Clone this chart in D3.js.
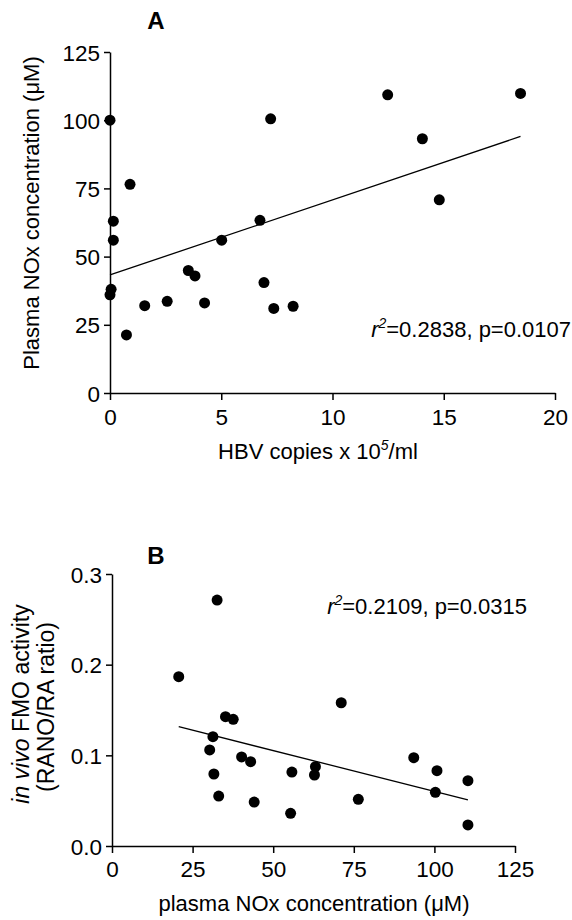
<!DOCTYPE html>
<html>
<head>
<meta charset="utf-8">
<title>Plasma NOx scatter</title>
<style>
	body { margin: 0; background: #fff; }
	svg text { font-family: "Liberation Sans", Arial, sans-serif; fill: #000; }
</style>
</head>
<body>
<div id="chart"></div>
<script src="https://cdn.jsdelivr.net/npm/d3@7/dist/d3.min.js"></script>
<script>
// Panel A: HBV copies (x10^5/ml) against plasma NOx (uM)
var hbvA = [0, 0.9, 0.15, 0.15, 0.05, 0, 0.74, 1.56, 2.57, 3.52, 3.82, 4.25, 5.02, 6.74, 6.92, 7.22, 7.36, 8.23, 12.48, 14.04, 14.8, 18.45];
var noxA = [100, 76.5, 63, 56, 38, 36, 21.3, 32, 33.6, 44.9, 42.9, 33, 56, 63.3, 40.5, 100.5, 31, 31.8, 109.3, 93.2, 70.8, 109.8];
var fitA = [43.3, 2.75]; // intercept, slope
var xTicksA = [0, 5, 10, 15, 20];
var yTicksA = [0, 25, 50, 75, 100, 125];

// Panel B: plasma NOx (uM) against RANO/RA ratio
var noxB = [32.6, 20.7, 35.2, 37.6, 31.3, 30.3, 40.2, 43.0, 31.6, 55.8, 33.1, 44.1, 55.4, 71.1, 93.6, 100.8, 110.4, 100.3, 110.4, 63.1, 62.8, 76.4];
var fmoB = [0.2713, 0.1868, 0.1426, 0.1397, 0.1206, 0.1059, 0.0982, 0.093, 0.0794, 0.0816, 0.0551, 0.0485, 0.036, 0.158, 0.0974, 0.0831, 0.072, 0.0592, 0.0232, 0.0875, 0.0783, 0.0515];
var fitB = [0.1502, -0.000899];
var xTicksB = [0, 25, 50, 75, 100, 125];
var yTicksB = [0, 0.1, 0.2, 0.3];
var yTickLabelsB = ["0.0", "0.1", "0.2", "0.3"];

var svg = d3.select("#chart").append("svg")
	.attr("width", 572)
	.attr("height", 920);

function styleAxis(g) {
	g.selectAll("path").style("stroke", "#000").style("stroke-width", 1.5);
	g.selectAll("line").style("stroke", "#000").style("stroke-width", 1.5);
	g.selectAll("text").style("font-size", "22.5px").style("fill", "#000");
}

function panel(p) {
	var x = d3.scaleLinear().domain(p.xDomain).range(p.xRange);
	var y = d3.scaleLinear().domain(p.yDomain).range(p.yRange);

	// axes
	var yAxis = d3.axisLeft(y).tickValues(p.yTicks).tickSize(6).tickSizeOuter(0).tickPadding(4);
	if (p.yLabels) yAxis.tickFormat(function(d, i) { return p.yLabels[i]; });
	var yG = svg.append("g")
		.attr("transform", "translate(" + p.xRange[0] + ",0)")
		.call(yAxis);
	styleAxis(yG);
	yG.selectAll("text").attr("dy", "0.36em");

	var xAxis = d3.axisBottom(x).tickValues(p.xTicks).tickSize(7).tickSizeOuter(0).tickPadding(p.xPad);
	var xG = svg.append("g")
		.attr("transform", "translate(0," + p.yRange[0] + ")")
		.call(xAxis);
	styleAxis(xG);

	// regression line over the data range
	var x0 = d3.min(p.xs), x1 = d3.max(p.xs);
	svg.append("line")
		.attr("x1", x(x0)).attr("y1", y(p.fit[0] + p.fit[1] * x0))
		.attr("x2", x(x1)).attr("y2", y(p.fit[0] + p.fit[1] * x1))
		.style("stroke", "#000")
		.style("stroke-width", 1.3);

	// points
	svg.append("g").selectAll("circle")
		.data(p.xs)
		.enter().append("circle")
			.attr("cx", function(d) { return x(d); })
			.attr("cy", function(d, i) { return y(p.ys[i]); })
			.attr("r", 5.5)
			.style("fill", "#000");

	return { x: x, y: y };
}

// ---- panel A
panel({
	xs: hbvA, ys: noxA, fit: fitA,
	xDomain: [0, 20], xRange: [110, 555],
	yDomain: [0, 125], yRange: [393, 52],
	xTicks: xTicksA, yTicks: yTicksA, xPad: 9
});

svg.append("text")
	.attr("x", 156).attr("y", 29)
	.attr("text-anchor", "middle")
	.style("font-size", "24px").style("font-weight", "bold")
	.text("A");

svg.append("text")
	.attr("transform", "translate(39,213) rotate(-90)")
	.attr("text-anchor", "middle")
	.style("font-size", "22px")
	.text("Plasma NOx concentration (\u03BCM)");

var xlabA = svg.append("text")
	.attr("x", 318).attr("y", 459)
	.attr("text-anchor", "middle")
	.style("font-size", "22px");
xlabA.append("tspan").text("HBV copies x 10");
xlabA.append("tspan").attr("dy", -9).style("font-size", "14px").style("font-style", "italic").text("5");
xlabA.append("tspan").attr("dy", 9).text("/ml");

var annA = svg.append("text")
	.attr("x", 571).attr("y", 337)
	.attr("text-anchor", "end")
	.style("font-size", "22px");
annA.append("tspan").style("font-style", "italic").text("r");
annA.append("tspan").attr("dy", -9).style("font-size", "14px").style("font-style", "italic").text("2");
annA.append("tspan").attr("dy", 9).text("=0.2838, p=0.0107");

// ---- panel B
panel({
	xs: noxB, ys: fmoB, fit: fitB,
	xDomain: [0, 125], xRange: [112, 515],
	yDomain: [0, 0.3], yRange: [846, 574],
	xTicks: xTicksB, yTicks: yTicksB, yLabels: yTickLabelsB, xPad: 8
});

svg.append("text")
	.attr("x", 156).attr("y", 564)
	.attr("text-anchor", "middle")
	.style("font-size", "24px").style("font-weight", "bold")
	.text("B");

var ylabB = svg.append("text")
	.attr("transform", "translate(29,704) rotate(-90)")
	.attr("text-anchor", "middle")
	.style("font-size", "23px");
ylabB.append("tspan").style("font-style", "italic").text("in vivo");
ylabB.append("tspan").text(" FMO activity");

svg.append("text")
	.attr("transform", "translate(54,707) rotate(-90)")
	.attr("text-anchor", "middle")
	.style("font-size", "23px")
	.text("(RANO/RA ratio)");

var annB = svg.append("text")
	.attr("x", 527).attr("y", 614)
	.attr("text-anchor", "end")
	.style("font-size", "22px");
annB.append("tspan").style("font-style", "italic").text("r");
annB.append("tspan").attr("dy", -9).style("font-size", "14px").style("font-style", "italic").text("2");
annB.append("tspan").attr("dy", 9).text("=0.2109, p=0.0315");

svg.append("text")
	.attr("x", 314).attr("y", 911)
	.attr("text-anchor", "middle")
	.style("font-size", "22px")
	.text("plasma NOx concentration (\u03BCM)");
</script>
</body>
</html>
